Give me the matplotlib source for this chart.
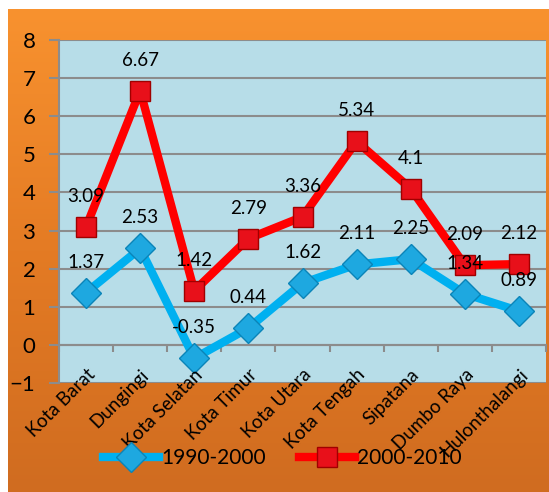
import matplotlib.pyplot as plt
import matplotlib.transforms as mtransforms
import numpy as np
from matplotlib.colors import LinearSegmentedColormap

plt.rcParams['font.family'] = ['Lato', 'DejaVu Sans']

# data
districts = ['Kota Barat', 'Dungingi', 'Kota Selatan', 'Kota Timur', 'Kota Utara',
             'Kota Tengah', 'Sipatana', 'Dumbo Raya', 'Hulonthalangi']
growth_1990_2000 = [1.37, 2.53, -0.35, 0.44, 1.62, 2.11, 2.25, 1.34, 0.89]
growth_2000_2010 = [3.09, 6.67, 1.42, 2.79, 3.36, 5.34, 4.1, 2.09, 2.12]
label_1990_2000 = ['1.37', '2.53', '-0.35', '0.44', '1.62', '2.11', '2.25', '1.34', '0.89']
label_2000_2010 = ['3.09', '6.67', '1.42', '2.79', '3.36', '5.34', '4.1', '2.09', '2.12']

W, H = 549, 492
fig = plt.figure(figsize=(W / 100, H / 100), dpi=100)

# orange gradient frame
bg = fig.add_axes([8 / W, 0, 1 - 8 / W, 1 - 9 / H])
bg.set_axis_off()
orange = LinearSegmentedColormap.from_list('orng', ['#f8922f', '#e47b24', '#d06c20'])
grad = np.linspace(0, 1, 256).reshape(-1, 1)
bg.imshow(grad, aspect='auto', cmap=orange, extent=[0, 1, 0, 1], origin='upper')
bg.set_xlim(0, 1)
bg.set_ylim(0, 1)

ax = fig.add_axes([59 / W, 1 - 383 / H, (546 - 59) / W, (383 - 40) / H])
ax.set_facecolor('#b7dde8')
x = np.arange(len(districts))

ax.plot(x, growth_1990_2000, color='#00b0f0', lw=6, marker='D', markersize=15,
        markerfacecolor='#1ea8e0', markeredgecolor='#0a84b8', markeredgewidth=1,
        label='1990-2000', zorder=3, solid_joinstyle='round')
ax.plot(x, growth_2000_2010, color='#ff0000', lw=6, marker='s', markersize=14,
        markerfacecolor='#e8101a', markeredgecolor='#a00000', markeredgewidth=1,
        label='2000-2010', zorder=4, solid_joinstyle='round')

for xi, v, t in zip(x, growth_1990_2000, label_1990_2000):
    ax.annotate(t, (xi, v), xytext=(0, 22), textcoords='offset points',
                ha='center', va='center', fontsize=13.5, zorder=5)
for xi, v, t in zip(x, growth_2000_2010, label_2000_2010):
    ax.annotate(t, (xi, v), xytext=(0, 22), textcoords='offset points',
                ha='center', va='center', fontsize=13.5, zorder=5)

ax.set_xlim(-0.5, len(districts) - 0.5)
ax.set_ylim(-1, 8)
ax.set_yticks(range(-1, 9))
ax.yaxis.grid(True, color='#8c8c8c', lw=1.5)
ax.set_axisbelow(True)
ax.tick_params(axis='y', labelsize=16, length=7, width=1.5, color='#8c8c8c', pad=10)
ax.set_xticks(x)
ax.set_xticklabels([])
ax.tick_params(axis='x', length=0)

# rotated category labels, anchored at their right end just above the plot bottom
shift = mtransforms.ScaledTranslation(6 / 100, 11 / 100, fig.dpi_scale_trans)
lbl_trans = ax.get_xaxis_transform() + shift
for xi, name in zip(x, districts):
    ax.text(xi, 0, name, transform=lbl_trans, rotation=45, ha='right', va='center',
            rotation_mode='anchor', fontsize=13.5, clip_on=False, zorder=6)

for s in ['top', 'right', 'bottom']:
    ax.spines[s].set_visible(False)
ax.spines['left'].set_color('#8c8c8c')
ax.spines['left'].set_linewidth(1.5)

# category boundary ticks on the zero line
sec = ax.secondary_xaxis(1 / 9)
sec.set_xticks(np.arange(len(districts) + 1) - 0.5)
sec.tick_params(axis='x', length=5, width=1.5, color='#8c8c8c', labelbottom=False, direction='out')
sec.spines['bottom'].set_color('#8c8c8c')
sec.spines['bottom'].set_linewidth(1.5)

fig.legend(loc='center', bbox_to_anchor=(0.514, 1 - 458 / H), ncol=2, frameon=False,
           fontsize=15, handlelength=2.7, columnspacing=1.6, handletextpad=0.1)

fig.savefig('out.png', dpi=100, facecolor='white')
